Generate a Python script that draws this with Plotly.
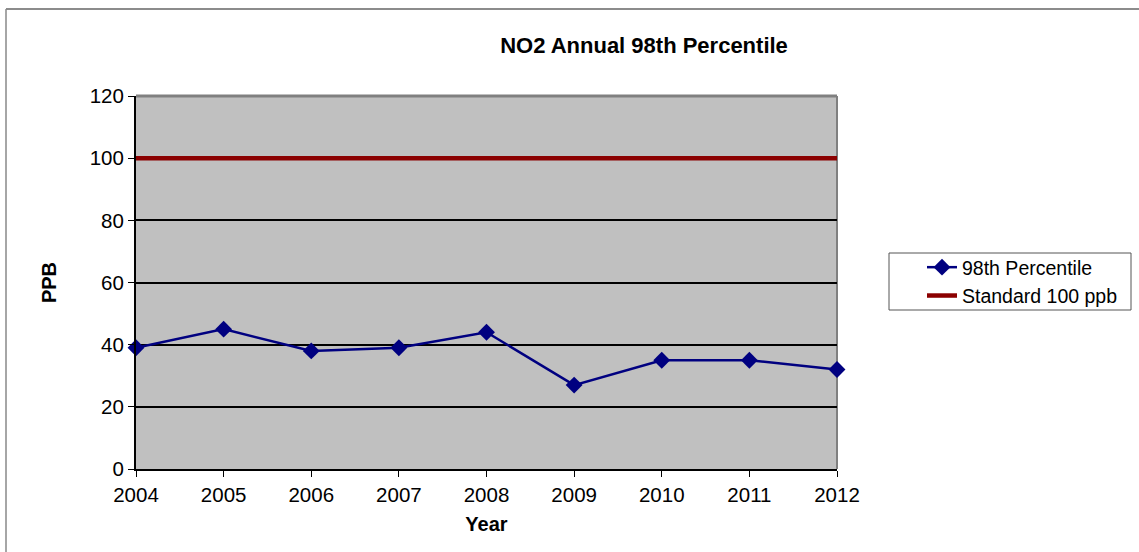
import plotly.graph_objects as go

years = [2004, 2005, 2006, 2007, 2008, 2009, 2010, 2011, 2012]
percentile_98 = [39, 45, 38, 39, 44, 27, 35, 35, 32]
standard_100 = [100, 100, 100, 100, 100, 100, 100, 100, 100]
y_ticks = [0, 20, 40, 60, 80, 100, 120]

W, H = 1139, 552
L, R, T, B = 136, 837, 96, 469

def px(x):
    return (x - L) / (R - L)

def py(y):
    return (B - y) / (B - T)

fig = go.Figure()
fig.add_trace(go.Scatter(
    x=years, y=percentile_98, name="98th Percentile", mode="lines+markers",
    line=dict(color="#000080", width=2.5),
    marker=dict(symbol="diamond", size=13, color="#000080"),
    cliponaxis=False,
))
fig.add_trace(go.Scatter(
    x=years, y=standard_100, name="Standard 100 ppb", mode="lines",
    line=dict(color="#8B0000", width=4.5),
    cliponaxis=False,
))

font = "Arial, Liberation Sans, sans-serif"
fig.update_layout(
    width=W, height=H,
    margin=dict(l=L, r=W - R, t=T, b=H - B),
    paper_bgcolor="white", plot_bgcolor="#C0C0C0",
    font=dict(family=font, size=20, color="black"),
    showlegend=True,
    title=dict(text="<b>NO2 Annual 98th Percentile</b>", x=px(644), xref="paper",
               xanchor="center", y=1 - 45 / H, yanchor="middle",
               font=dict(size=22, family=font)),
    legend=dict(x=px(922), y=py(248), xanchor="left", yanchor="top",
                borderwidth=0, bgcolor="rgba(0,0,0,0)",
                font=dict(size=19.5, family=font), tracegroupgap=0,
                itemwidth=30),
    xaxis=dict(range=[2004, 2012], tickmode="array", tickvals=years,
               ticks="outside", ticklen=6, tickcolor="black",
               showline=True, linecolor="black", linewidth=2,
               showgrid=False, zeroline=False,
               tickfont=dict(size=20.5),
               title=dict(text="<b>Year</b>", font=dict(size=20), standoff=12)),
    yaxis=dict(range=[0, 120], tickmode="array", tickvals=y_ticks,
               ticks="outside", ticklen=6, tickcolor="black",
               showline=True, linecolor="black", linewidth=2,
               showgrid=True, gridcolor="black", gridwidth=2,
               zeroline=False, tickfont=dict(size=20.5),
               title=dict(text="<b>PPB</b>", font=dict(size=20), standoff=28)),
    shapes=[
        # gray top/right plot border
        dict(type="line", xref="paper", yref="paper", x0=0, x1=1, y0=1, y1=1,
             line=dict(color="#808080", width=3)),
        dict(type="line", xref="paper", yref="paper", x0=1, x1=1, y0=0, y1=1,
             line=dict(color="#808080", width=2), layer="below"),
        # legend box
        dict(type="rect", xref="paper", yref="paper", x0=px(889), x1=px(1131),
             y0=py(310), y1=py(253), line=dict(color="#555555", width=1),
             fillcolor="rgba(0,0,0,0)", layer="below"),
        # outer chart border
        dict(type="line", xref="paper", yref="paper", x0=px(6), x1=px(1139),
             y0=py(9), y1=py(9), line=dict(color="#666666", width=1.5)),
        dict(type="line", xref="paper", yref="paper", x0=px(6), x1=px(6),
             y0=py(9), y1=py(552), line=dict(color="#888888", width=1.5)),
    ],
)

fig.write_html("out.html", config={"displayModeBar": False},
               post_script="document.body.style.margin='0';document.body.style.overflow='hidden';")
